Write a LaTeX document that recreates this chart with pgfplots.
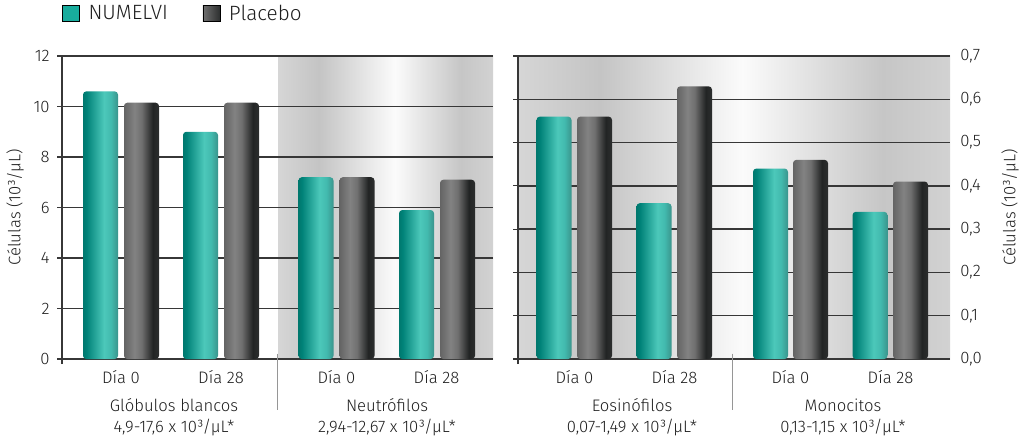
\documentclass[border=0pt]{standalone}
\usepackage{fontspec}
\setmainfont{Fira Sans Light}
\usepackage{pgfplots}
\pgfplotsset{compat=1.18}

\definecolor{gridc}{RGB}{55,55,55}
\definecolor{sepc}{RGB}{150,150,150}
\definecolor{txt}{RGB}{30,30,30}
\definecolor{tealleg}{RGB}{24,172,157}
% bar gradients
\definecolor{tb0}{RGB}{0,120,110}
\definecolor{tb1}{RGB}{0,130,120}
\definecolor{tb2}{RGB}{76,200,186}
\definecolor{tb3}{RGB}{66,186,174}
\definecolor{tb4}{RGB}{58,148,140}
\definecolor{gb0}{RGB}{100,100,100}
\definecolor{gb1}{RGB}{130,130,130}
\definecolor{gb2}{RGB}{112,112,112}
\definecolor{gb3}{RGB}{34,36,36}
\definecolor{gb4}{RGB}{44,46,46}
% background gradients
\definecolor{bg0}{RGB}{214,214,214}
\definecolor{bg1}{RGB}{196,196,196}
\definecolor{bg2}{RGB}{251,251,251}
\definecolor{bg3}{RGB}{198,198,198}
\definecolor{bg4}{RGB}{210,210,210}

\pgfdeclarehorizontalshading{tealbar}{100bp}{color(0bp)=(tb0); color(25bp)=(tb0); color(30bp)=(tb1); color(55bp)=(tb2); color(65bp)=(tb3); color(75bp)=(tb4); color(100bp)=(tb4)}
\pgfdeclarehorizontalshading{graybar}{100bp}{color(0bp)=(gb0); color(25bp)=(gb0); color(40bp)=(gb1); color(50bp)=(gb2); color(66bp)=(gb3); color(75bp)=(gb4); color(100bp)=(gb4)}
\pgfdeclarehorizontalshading{bgL}{100bp}{color(0bp)=(bg0); color(25bp)=(bg0); color(34.5bp)=(bg1); color(52.2bp)=(bg2); color(67.5bp)=(bg3); color(75bp)=(bg4); color(100bp)=(bg4)}
\pgfdeclarehorizontalshading{bgR}{100bp}{color(0bp)=(bg0); color(25bp)=(bg0); color(34.5bp)=(bg1); color(51bp)=(bg2); color(67.2bp)=(bg3); color(75bp)=(bg4); color(100bp)=(bg4)}
\pgfdeclarehorizontalshading{grayleg}{100bp}{color(0bp)=(gb1); color(25bp)=(gb2); color(75bp)=(gb4); color(100bp)=(gb4)}

\newcommand{\fz}{\fontsize{12.5}{15}\selectfont}
\newcommand{\nbar}[2]{\addplot[ybar, bar width=35, bar shift=0pt, draw=none, shading=tealbar, rounded corners=2.5pt] coordinates {(#1,#2)};}
\newcommand{\pbar}[2]{\addplot[ybar, bar width=35, bar shift=0pt, draw=none, shading=graybar, rounded corners=2.5pt] coordinates {(#1,#2)};}

\pgfplotsset{
  panel/.style={
    scale only axis, height=227.25pt,
    ymin=0,
    axis x line*=bottom, axis y line*=left,
    axis line style={gridc, line width=1.1pt, -},
    tick align=outside, major tick length=3.75pt,
    tick style={gridc, line width=0.8pt},
    ymajorgrids, grid style={gridc, line width=1.1pt},
    xticklabels={},
    clip=false,
    ticklabel style={font=\fz, text=txt},
    /pgf/number format/assume math mode=true,
  },
}

\begin{document}
\begin{tikzpicture}
\useasboundingbox (0,0) rectangle (768pt,335.25pt);
\begin{scope}[x=0.75pt,y=-0.75pt,shift={(0pt,335.25pt)}]
  \shade[shading=bgL] (278,56) rectangle (493,359);
  \shade[shading=bgR] (518,56) rectangle (950,359);
\end{scope}

% left panel: Glóbulos blancos, Neutrófilos
\begin{axis}[panel,
  at={(46.5pt,66pt)}, anchor=south west,
  width=323.25pt,
  xmin=62, xmax=493, ymax=12,
  ytick={0,2,...,12}, xtick={62},
  yticklabel style={xshift=-2pt},
  ylabel={Células (10³/µL)},
  every axis y label/.style={at={(axis description cs:-0.109,0.5)}, rotate=90, anchor=center, font=\fz, text=txt},
  legend columns=2,
  legend style={at={(axis description cs:0,1)}, anchor=west, yshift=32pt,
    draw=none, fill=none, inner sep=0pt, font=\fontsize{15.5}{18}\selectfont,
    text=txt,
    /tikz/every odd column/.append style={column sep=4.5pt},
    /tikz/every even column/.append style={column sep=24pt}},
  legend image code/.code={\path[#1] (0pt,-6.2pt) rectangle (12.8pt,6.2pt);},
]
\addlegendimage{fill=tealleg}
\addlegendentry{NUMELVI}
\addlegendimage{shading=grayleg}
\addlegendentry{Placebo}

\nbar{100.5}{10.6}  \pbar{141.5}{10.15}
\nbar{200.5}{9.0}   \pbar{241.5}{10.15}
\nbar{316}{7.2}     \pbar{357}{7.2}
\nbar{416.5}{5.9}   \pbar{457.5}{7.1}

\draw[sepc, line width=0.7pt] (axis cs:277,0) ++(0pt,4pt) -- ++(0pt,-42pt);
\begin{scope}[font=\fz, text=txt]
\node at (axis cs:121,0)   [yshift=-13.5pt] {Día 0};
\node at (axis cs:221,0)   [yshift=-13.5pt] {Día 28};
\node at (axis cs:336.5,0) [yshift=-13.5pt] {Día 0};
\node at (axis cs:436.5,0) [yshift=-13.5pt] {Día 28};
\node at (axis cs:174,0)   [yshift=-34.5pt] {Glóbulos blancos};
\node at (axis cs:174,0)   [yshift=-51.5pt] {4,9-17,6 x 10³/µL*};
\node at (axis cs:387,0)   [yshift=-34.5pt] {Neutrófilos};
\node at (axis cs:387,0)   [yshift=-51.5pt] {2,94-12,67 x 10³/µL*};
\end{scope}
\end{axis}

% right panel: Eosinófilos, Monocitos (tick labels moved to the right side)
\begin{axis}[panel,
  at={(388.5pt,66pt)}, anchor=south west,
  width=324pt,
  xmin=518, xmax=950, ymax=0.7,
  ytick={0,0.1,...,0.7}, xtick={518},
  yticklabel style={anchor=west, xshift=332pt,
    /pgf/number format/.cd, fixed, fixed zerofill, precision=1, use comma},
  ylabel={Células (10³/µL)},
  every axis y label/.style={at={(axis description cs:1.139,0.5)}, rotate=90, anchor=center, font=\fz, text=txt},
]
\nbar{554}{0.56}    \pbar{594.5}{0.56}
\nbar{654}{0.36}    \pbar{694.5}{0.63}
\nbar{770.5}{0.44}  \pbar{810.5}{0.46}
\nbar{870}{0.34}    \pbar{910.5}{0.41}

\draw[sepc, line width=0.7pt] (axis cs:732,0) ++(0pt,4pt) -- ++(0pt,-42pt);
\begin{scope}[font=\fz, text=txt]
\node at (axis cs:574.5,0) [yshift=-13.5pt] {Día 0};
\node at (axis cs:674.5,0) [yshift=-13.5pt] {Día 28};
\node at (axis cs:790.5,0) [yshift=-13.5pt] {Día 0};
\node at (axis cs:890.5,0) [yshift=-13.5pt] {Día 28};
\node at (axis cs:632,0)   [yshift=-34.5pt] {Eosinófilos};
\node at (axis cs:632,0)   [yshift=-51.5pt] {0,07-1,49 x 10³/µL*};
\node at (axis cs:843,0)   [yshift=-34.5pt] {Monocitos};
\node at (axis cs:843,0)   [yshift=-51.5pt] {0,13-1,15 x 10³/µL*};
\end{scope}
\end{axis}
\end{tikzpicture}
\end{document}
